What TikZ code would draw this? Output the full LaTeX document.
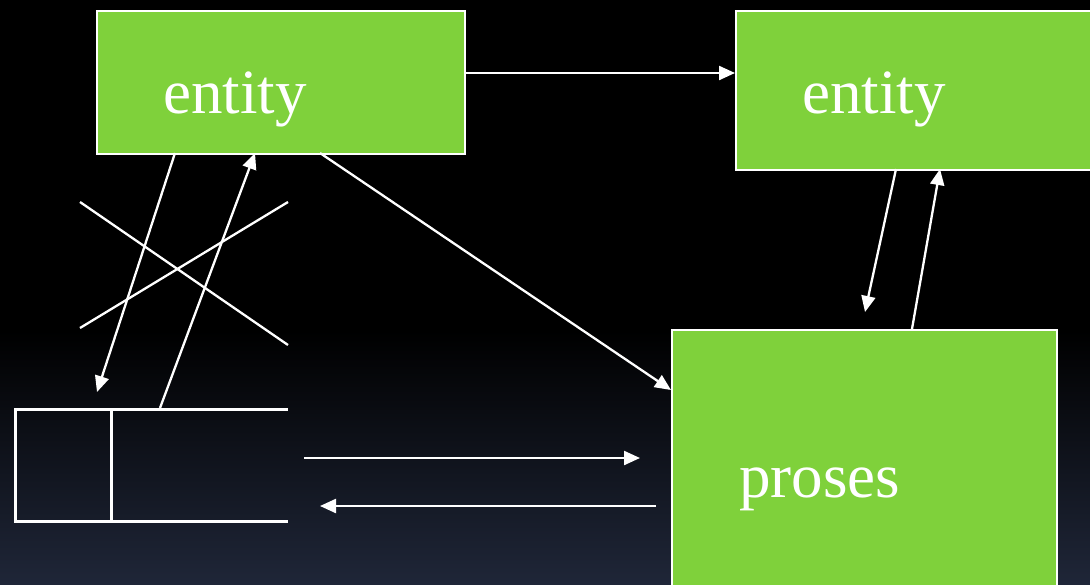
\documentclass[tikz,border=0pt]{standalone}
\usepackage{fontspec}
\setmainfont{Liberation Serif}
\usetikzlibrary{arrows.meta,calc}
\definecolor{boxgreen}{RGB}{127,209,59}
\definecolor{bgbottom}{RGB}{31,38,56}
\begin{document}
\begin{tikzpicture}[x=1pt,y=-1pt,
  box/.style={draw=white,line width=2.2pt,fill=boxgreen,inner sep=0pt,anchor=north west},
  lbl/.style={text=white,font=\fontsize{63}{70}\selectfont,anchor=base west,inner sep=0pt},
  conn/.style={draw=white,line width=2.3pt},
  store/.style={draw=white,line width=3pt},
  arr/.style={conn,-{Triangle[length=16pt,width=14pt]}}]
\useasboundingbox (0,0) rectangle (1090,584);
\clip (0,0) rectangle (1090,584);
% background
\fill[black] (0,0) rectangle (1090,584);
\shade[top color=black,bottom color=bgbottom] (0,330) rectangle (1090,584);
% boxes
\node[box,minimum width=368pt,minimum height=143pt] (b1) at (96,10) {};
\node[box,minimum width=370pt,minimum height=159pt] (b2) at (735,10) {};
\node[box,minimum width=385pt,minimum height=290pt] (b3) at (671,329) {};
\node[lbl] (t1) at (163,113) {entity};
\node[lbl] (t2) at (802,113) {entity};
\node[lbl] (t3) at (739,497) {proses};
% data store
\coordinate (dsTL) at (15,409);
\coordinate (dsTR) at (288,409);
\coordinate (dsBL) at (15,521);
\coordinate (dsBR) at (288,521);
\coordinate (dsDT) at (111,409);
\coordinate (dsDB) at (111,521);
\draw[store] (dsTR) -- (dsTL) -- (dsBL) -- (dsBR);
\draw[store] (dsDT) -- (dsDB);
% cross
\coordinate (x1a) at (80,202);
\coordinate (x1b) at (288,345);
\coordinate (x2a) at (80,328);
\coordinate (x2b) at (288,202);
\draw[conn] (x1a) -- (x1b);
\draw[conn] (x2a) -- (x2b);
% connector end points
\coordinate (p1) at (464,73);
\coordinate (p2) at (735,73);
\coordinate (p3) at (320,153);
\coordinate (p4) at (671,390);
\coordinate (p5) at (175,153);
\coordinate (p6) at (97,392);
\coordinate (p7) at (160,408);
\coordinate (p8) at (255,153);
\coordinate (p9) at (304,458);
\coordinate (p10) at (640,458);
\coordinate (p11) at (656,506);
\coordinate (p12) at (320,506);
\coordinate (p13) at (896,169);
\coordinate (p14) at (865,312);
\coordinate (p15) at (912,329);
\coordinate (p16) at (940,169);
\draw[arr] (p1) -- (p2);
\draw[arr] (p3) -- (p4);
\draw[arr] (p5) -- (p6);
\draw[arr] (p7) -- (p8);
\draw[arr] (p9) -- (p10);
\draw[arr] (p11) -- (p12);
\draw[arr] (p13) -- (p14);
\draw[arr] (p15) -- (p16);
\end{tikzpicture}
\end{document}
